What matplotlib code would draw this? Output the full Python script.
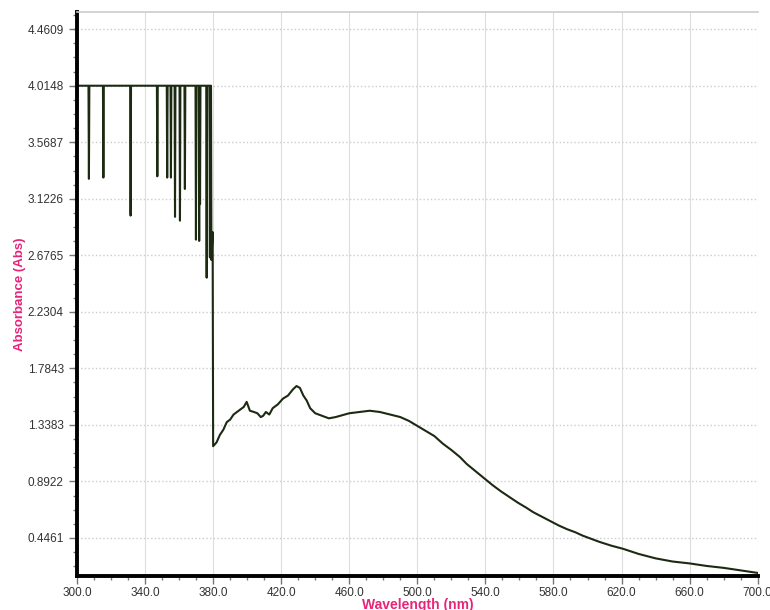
import numpy as np
import matplotlib
matplotlib.use("Agg")
import matplotlib.pyplot as plt
from matplotlib.ticker import MultipleLocator, AutoMinorLocator

plt.rcParams['font.family'] = ['Liberation Sans', 'DejaVu Sans']

# saturated part (detector ceiling at 4.0148) with the downward spikes
sat_level = 4.0148
spike_nm = [307.0, 315.5, 331.5, 347.2, 353.0, 355.2, 357.6, 360.5, 363.4,
            369.9, 371.8, 372.3, 376.2, 378.1, 379.0]
spike_abs = [3.28, 3.29, 2.99, 3.30, 3.29, 3.29, 2.98, 2.95, 3.20,
             2.80, 2.79, 3.08, 2.50, 2.66, 2.64]

# measured curve below saturation
curve_nm = [379.7, 380.0, 382, 384, 386, 388, 390, 392, 394, 396, 398, 399.7,
            401.6, 404, 406, 408, 409.4, 411, 413, 415, 418, 421, 424, 427, 429,
            431, 433, 435, 437, 440, 444, 448, 452, 456, 460, 466, 472, 478, 484,
            490, 495, 500, 505, 510, 515, 520, 525, 529, 534, 539, 544, 549, 554,
            559, 564, 568, 573, 578, 583, 588, 593, 597, 602, 607, 614, 621, 630,
            640, 650, 660, 670, 680, 690, 700]
curve_abs = [2.86, 1.17, 1.20, 1.26, 1.30, 1.36, 1.38, 1.42, 1.44, 1.46, 1.48, 1.52,
             1.45, 1.44, 1.43, 1.40, 1.41, 1.44, 1.42, 1.47, 1.50, 1.545, 1.57, 1.62, 1.645,
             1.63, 1.57, 1.53, 1.47, 1.43, 1.41, 1.39, 1.40, 1.415, 1.43, 1.44, 1.45, 1.44, 1.42,
             1.40, 1.37, 1.33, 1.29, 1.25, 1.19, 1.14, 1.085, 1.03, 0.975, 0.92, 0.865, 0.815, 0.77,
             0.725, 0.685, 0.65, 0.615, 0.58, 0.545, 0.515, 0.49, 0.465, 0.44, 0.415, 0.385, 0.36, 0.32,
             0.285, 0.26, 0.245, 0.225, 0.21, 0.19, 0.17]

y_ticks = [0.4461, 0.8922, 1.3383, 1.7843, 2.2304, 2.6765, 3.1226, 3.5687, 4.0148, 4.4609]
x_ticks = [300, 340, 380, 420, 460, 500, 540, 580, 620, 660, 700]

# build the saturated trace: flat top, each spike dips down and back
wl = [300.0]
ab = [sat_level]
for s, a in zip(spike_nm, spike_abs):
    wl += [s - 0.25, s, s + 0.25]
    ab += [sat_level, a, sat_level]
wl = wl[:-1] + curve_nm
ab = ab[:-1] + curve_abs

fig = plt.figure(figsize=(7.7, 6.1), dpi=100)
ax = fig.add_axes([0.1, 0.056, 0.884, 0.924])

ax.plot(wl, ab, color='#1c2a12', lw=1.5)

ax.set_xlim(300, 700)
ax.set_ylim(0.147, 4.595)
ax.set_xticks(x_ticks)
ax.set_xticklabels(['%.1f' % v for v in x_ticks])
ax.set_yticks(y_ticks)
ax.set_yticklabels(['%.4f' % v for v in y_ticks])
ax.xaxis.set_minor_locator(MultipleLocator(10))
ax.yaxis.set_minor_locator(AutoMinorLocator(4))

ax.tick_params(which='major', direction='out', length=6, width=1, color='#777777',
               labelsize=8.5, labelcolor='#333333')
ax.tick_params(which='minor', direction='out', length=3, width=1, color='#777777')
ax.tick_params(axis='x', which='major', pad=2)

ax.grid(axis='y', which='major', color='#cccccc', ls=':', lw=1)
ax.grid(axis='x', which='major', color='#dddddd', ls='-', lw=0.8)

ax.spines['left'].set_linewidth(2.8)
ax.spines['bottom'].set_linewidth(2.8)
ax.spines['left'].set_color('black')
ax.spines['bottom'].set_color('black')
ax.spines['top'].set_color('#cccccc')
ax.spines['top'].set_linewidth(1.2)
ax.spines['right'].set_visible(False)

ax.set_xlabel('Wavelength (nm)', color='#e8237a', fontsize=10, fontweight='bold', labelpad=-1)
ax.set_ylabel('Absorbance (Abs)', color='#e8237a', fontsize=9.5, fontweight='bold', labelpad=1)

fig.savefig('out.png', dpi=100)
